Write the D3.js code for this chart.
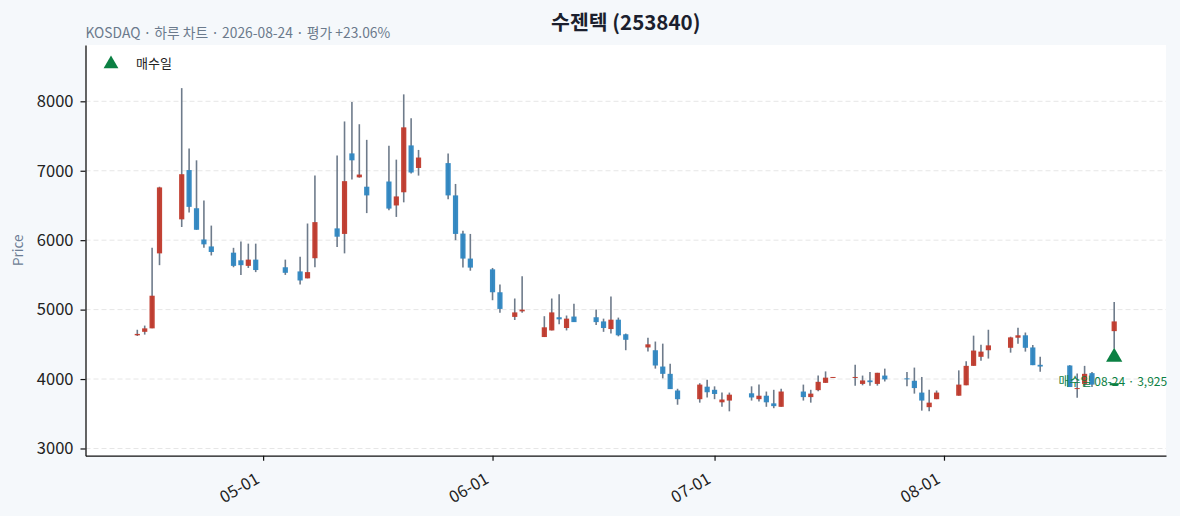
<!DOCTYPE html>
<html>
<head>
<meta charset="utf-8">
<script src="https://cdn.jsdelivr.net/npm/d3@7"></script>
<style>
body { margin: 0; background: #f5f8fb; }
text { font-family: "Noto Sans CJK KR", "Noto Sans", sans-serif; }
</style>
</head>
<body>
<script>
// 일봉 데이터
var dates = ["2026-04-14","2026-04-15","2026-04-16","2026-04-17","2026-04-20","2026-04-21","2026-04-22","2026-04-23","2026-04-24",
  "2026-04-27","2026-04-28","2026-04-29","2026-04-30","2026-05-04","2026-05-06","2026-05-07","2026-05-08",
  "2026-05-11","2026-05-12","2026-05-13","2026-05-14","2026-05-15","2026-05-18","2026-05-19","2026-05-20","2026-05-21","2026-05-22",
  "2026-05-26","2026-05-27","2026-05-28","2026-05-29","2026-06-01","2026-06-02","2026-06-04","2026-06-05",
  "2026-06-08","2026-06-09","2026-06-10","2026-06-11","2026-06-12","2026-06-15","2026-06-16","2026-06-17","2026-06-18","2026-06-19",
  "2026-06-22","2026-06-23","2026-06-24","2026-06-25","2026-06-26","2026-06-29","2026-06-30","2026-07-01","2026-07-02","2026-07-03",
  "2026-07-06","2026-07-07","2026-07-08","2026-07-09","2026-07-10","2026-07-13","2026-07-14","2026-07-15","2026-07-16","2026-07-17",
  "2026-07-20","2026-07-21","2026-07-22","2026-07-23","2026-07-24","2026-07-27","2026-07-28","2026-07-29","2026-07-30","2026-07-31",
  "2026-08-03","2026-08-04","2026-08-05","2026-08-06","2026-08-07","2026-08-10","2026-08-11","2026-08-12","2026-08-13","2026-08-14",
  "2026-08-18","2026-08-19","2026-08-20","2026-08-21","2026-08-24"];
var opens = [4630,4680,4730,5810,6300,7010,6460,6010,5910,
  5820,5710,5630,5720,5610,5550,5450,5740,
  6170,6090,7250,6905,6770,6845,6500,6690,7365,7040,
  7110,6645,6095,5735,5580,5250,4895,4975,
  4605,4700,4890,4735,4900,4890,4830,4720,4855,4645,
  4455,4415,4180,4075,3835,3710,3890,3845,3665,3690,
  3795,3710,3760,3650,3600,3820,3740,3840,3945,4020,
  4020,3930,3980,3930,4050,4010,3975,3805,3595,3710,
  3760,3910,4190,4320,4415,4450,4595,4630,4455,4205,
  4195,3860,3930,4085,4690];
var highs = [4710,4770,5890,6770,8190,7320,7150,6570,6210,
  5890,5980,5950,5950,5720,5760,6240,6930,
  7220,7710,7990,7670,7445,7360,7160,8100,7755,7300,
  7250,6810,6135,6090,5600,5360,5160,5480,
  4905,5160,5220,4915,5085,5000,4870,5190,4885,4655,
  4595,4540,4510,4220,3860,3940,3990,3895,3805,3805,
  3895,3920,3820,3845,3860,3920,3845,4050,4110,4030,
  4205,4050,4100,4090,4150,4100,4165,4030,3845,3835,
  4125,4255,4625,4495,4710,4610,4740,4670,4490,4320,
  4200,4080,4190,4100,5110];
var lows = [4620,4640,4730,5640,6190,6400,6150,5890,5780,
  5610,5500,5600,5540,5500,5360,5450,5610,
  5900,5810,6875,6900,6390,6430,6335,6545,6960,6930,
  6590,6000,5605,5560,5135,4955,4850,4955,
  4605,4700,4790,4700,4820,4780,4680,4655,4615,4415,
  4395,4150,4010,3855,3630,3660,3735,3710,3600,3535,
  3690,3675,3600,3580,3600,3690,3660,3825,3945,4020,
  3905,3910,3905,3905,3965,3895,3790,3545,3535,3710,
  3760,3910,4190,4265,4295,4380,4510,4395,4200,4105,
  3885,3730,3885,3885,4440];
var closes = [4650,4730,5200,6760,6950,6480,6150,5940,5830,
  5630,5640,5720,5570,5530,5420,5540,6260,
  6050,6850,7150,6945,6645,6455,6630,7625,6975,7190,
  6645,6090,5735,5605,5250,5010,4960,5000,
  4745,4960,4860,4870,4820,4820,4735,4855,4630,4565,
  4500,4195,4075,3855,3710,3920,3810,3785,3705,3775,
  3735,3760,3665,3610,3820,3740,3790,3960,4020,4030,
  4030,3980,3955,4090,3995,4000,3870,3690,3660,3805,
  3920,4190,4410,4395,4485,4600,4630,4450,4200,4180,
  3885,3870,4075,3920,4830];

var yTicks = [3000, 4000, 5000, 6000, 7000, 8000];
var xTicks = ["2026-05-01", "2026-06-01", "2026-07-01", "2026-08-01"];
var xDomain = ["2026-04-07", "2026-08-31"];
var yDomain = [2896, 8811];
var buyDate = "2026-08-24";
var buyPrice = 3925;

var W = 1180, H = 516;
var mLeft = 85.5, mRight = 1166, mTop = 45, mBottom = 455.7;
var upColor = "#c0392b", downColor = "#2e86c1", wickColor = "#6e7b8b", buyColor = "#0b8043";
var fontStack = "'Noto Sans CJK KR','Noto Sans',sans-serif";

var parse = d3.timeParse("%Y-%m-%d");
var fmt = d3.timeFormat("%m-%d");

var svg = d3.select("body").append("svg").attr("width", W).attr("height", H);
svg.append("rect").attr("width", W).attr("height", H).attr("fill", "#f5f8fb");
svg.append("rect").attr("x", mLeft).attr("y", mTop).attr("width", mRight - mLeft).attr("height", mBottom - mTop).attr("fill", "#ffffff");

var x = d3.scaleTime().domain(xDomain.map(parse)).range([mLeft, mRight]);
var y = d3.scaleLinear().domain(yDomain).range([mBottom, mTop]);

// 격자선
svg.append("g").selectAll("line").data(yTicks).enter().append("line")
  .attr("x1", mLeft).attr("x2", mRight)
  .attr("y1", function(d){ return y(d); }).attr("y2", function(d){ return y(d); })
  .attr("stroke", "#e6e6e6").attr("stroke-width", 1).attr("stroke-dasharray", "5,3");

var candles = dates.map(function(d, i){
  return { date: parse(d), o: opens[i], h: highs[i], l: lows[i], c: closes[i] };
});

var bw = 5.2;
var g = svg.append("g");
g.selectAll("line.wick").data(candles).enter().append("line").attr("class", "wick")
  .attr("x1", function(d){ return x(d.date); }).attr("x2", function(d){ return x(d.date); })
  .attr("y1", function(d){ return y(d.h); }).attr("y2", function(d){ return y(d.l); })
  .attr("stroke", wickColor).attr("stroke-width", 1.6);
g.selectAll("rect.body").data(candles).enter().append("rect").attr("class", "body")
  .attr("x", function(d){ return x(d.date) - bw / 2; })
  .attr("y", function(d){ return y(Math.max(d.o, d.c)); })
  .attr("width", bw)
  .attr("height", function(d){ return Math.max(1, Math.abs(y(d.o) - y(d.c))); })
  .attr("fill", function(d){ return d.c >= d.o ? upColor : downColor; })
  .attr("opacity", 0.95);

// 축
var yAxis = svg.append("g").attr("transform", "translate(" + mLeft + ",0)")
  .call(d3.axisLeft(y).tickValues(yTicks).tickFormat(d3.format("d")).tickSize(5).tickSizeOuter(0).tickPadding(7));
var xAxis = svg.append("g").attr("transform", "translate(0," + mBottom + ")")
  .call(d3.axisBottom(x).tickValues(xTicks.map(parse)).tickFormat(fmt).tickSize(5).tickSizeOuter(0));
[yAxis, xAxis].forEach(function(a){
  a.attr("font-size", 16.5).attr("font-family", fontStack);
  a.select(".domain").attr("stroke", "#111").attr("stroke-width", 1.3);
  a.selectAll(".tick line").attr("stroke", "#111").attr("stroke-width", 1.2);
  a.selectAll("text").attr("fill", "#222");
});
xAxis.selectAll(".tick text")
  .attr("text-anchor", "end").attr("x", 0).attr("y", 0).attr("dy", 0)
  .attr("transform", "translate(-3,26.5) rotate(-30)");

svg.append("text").attr("transform", "translate(23," + ((mTop + mBottom) / 2) + ") rotate(-90)")
  .attr("text-anchor", "middle").attr("font-size", 13.5).attr("fill", "#6b7c93").text("Price");

// 제목
svg.append("text").attr("x", (mLeft + mRight) / 2).attr("y", 29.5).attr("text-anchor", "middle")
  .attr("font-size", 20.5).attr("font-weight", "bold").attr("fill", "#1b1f2e").text("수젠텍 (253840)");
svg.append("text").attr("x", mLeft).attr("y", 37.5).attr("font-size", 13.8).attr("fill", "#6b7a8c")
  .text("KOSDAQ · 하루 차트 · 2026-08-24 · 평가 +23.06%");

// 매수일 표시
var buy = candles.find(function(d){ return fmt(d.date) === fmt(parse(buyDate)); });
var bx = x(buy.date), by = y(buy.l * 0.972);
svg.append("path").attr("d", d3.symbol().type(d3.symbolTriangle).size(115)())
  .attr("transform", "translate(" + bx + "," + by + ")").attr("fill", buyColor);
svg.append("line").attr("x1", bx - 4.5).attr("x2", bx + 4.5).attr("y1", y(buyPrice)).attr("y2", y(buyPrice))
  .attr("stroke", buyColor).attr("stroke-width", 2.2);
svg.append("text").attr("x", bx + 53).attr("y", y(buyPrice) + 1.5).attr("text-anchor", "end")
  .attr("font-size", 12).attr("fill", buyColor)
  .text("매수일 " + fmt(buy.date) + " · " + d3.format(",")(buyPrice));

// 범례
svg.append("path").attr("d", d3.symbol().type(d3.symbolTriangle).size(95)())
  .attr("transform", "translate(111,64)").attr("fill", buyColor);
svg.append("text").attr("x", 136).attr("y", 67.5).attr("font-size", 13).attr("fill", "#222").text("매수일");
</script>
</body>
</html>
